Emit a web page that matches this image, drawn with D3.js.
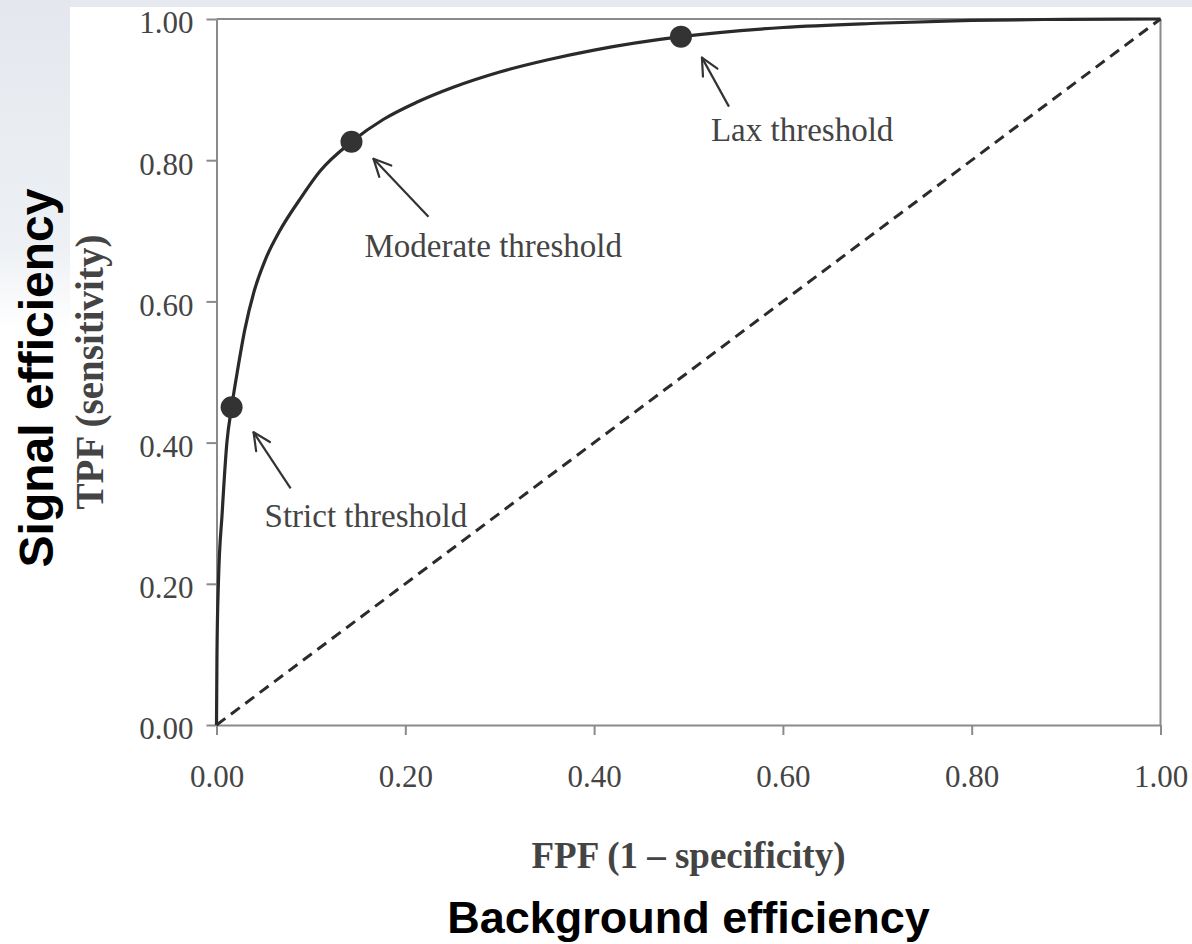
<!DOCTYPE html>
<html>
<head>
<meta charset="utf-8">
<script src="https://cdn.jsdelivr.net/npm/d3@7"></script>
<style>
  body { margin: 0; background: #fff; }
  svg { display: block; }
</style>
</head>
<body>
<div id="chart"></div>
<script>
// ROC curve (FPF on x, TPF on y)
var fpf = [0, 0.0005, 0.002, 0.006, 0.011, 0.016, 0.022, 0.03, 0.04, 0.052, 0.067, 0.088, 0.11, 0.143, 0.177, 0.212, 0.25, 0.3, 0.35, 0.4, 0.492, 0.6, 0.7, 0.8, 0.9, 1.0];
var tpf = [0, 0.1, 0.2, 0.3, 0.4, 0.45, 0.5, 0.56, 0.615, 0.66, 0.70, 0.744, 0.785, 0.826, 0.858, 0.882, 0.903, 0.925, 0.942, 0.956, 0.975, 0.988, 0.994, 0.998, 0.9995, 1.0];

// chance line
var chanceX = [0, 1];
var chanceY = [0, 1];

// operating points
var thrNames = ["Strict threshold", "Moderate threshold", "Lax threshold"];
var thrFpf = [0.016, 0.143, 0.492];
var thrTpf = [0.45, 0.826, 0.975];

var tickVals = [0, 0.2, 0.4, 0.6, 0.8, 1.0];
var tickLabels = ["0.00", "0.20", "0.40", "0.60", "0.80", "1.00"];

var xTitle = "FPF (1 \u2013 specificity)";
var yTitle = "TPF (sensitivity)";
var xTitle2 = "Background efficiency";
var yTitle2 = "Signal efficiency";

// set the dimensions and margins of the graph
var W = 1192, H = 944;
var margin = {top: 19, right: 32, bottom: 219, left: 216.5},
    width = 1160.5 - margin.left,
    height = 725 - margin.top;

var svg = d3.select("#chart")
    .append("svg")
    .attr("width", W)
    .attr("height", H);

// faint slide background behind the figure
var defs = svg.append("defs");
var grad = defs.append("linearGradient")
    .attr("id", "fade")
    .attr("x1", 0).attr("y1", 0).attr("x2", 0).attr("y2", 1);
grad.append("stop").attr("offset", "0%").attr("stop-color", "#e4e8ee");
grad.append("stop").attr("offset", "75%").attr("stop-color", "#edf0f4");
grad.append("stop").attr("offset", "100%").attr("stop-color", "#ffffff");
svg.append("rect").attr("x", 0).attr("y", 0).attr("width", W).attr("height", 7).attr("fill", "#e6eaf0");
svg.append("rect").attr("x", 0).attr("y", 0).attr("width", 70).attr("height", 330).attr("fill", "url(#fade)");

var g = svg.append("g")
    .attr("transform", "translate(" + margin.left + "," + margin.top + ")");

var x = d3.scaleLinear().domain([0, 1]).range([0, width]);
var y = d3.scaleLinear().domain([0, 1]).range([height, 0]);

var axisColor = "#8a8a8a";
var labColor = "#444";

// frame: top and right edges
g.append("line").attr("x1", x(0)).attr("x2", x(1)).attr("y1", y(1)).attr("y2", y(1))
    .attr("stroke", axisColor).attr("stroke-width", 2);
g.append("line").attr("x1", x(1)).attr("x2", x(1)).attr("y1", y(0)).attr("y2", y(1))
    .attr("stroke", axisColor).attr("stroke-width", 2);

// X axis
var xAxis = g.append("g")
    .attr("transform", "translate(0," + height + ")")
    .call(d3.axisBottom(x).tickValues(tickVals)
          .tickFormat(function(d, i) { return tickLabels[i]; })
          .tickSize(10).tickPadding(30).tickSizeOuter(0));
xAxis.select(".domain").attr("stroke", axisColor).attr("stroke-width", 2);
xAxis.selectAll(".tick line").attr("stroke", axisColor).attr("stroke-width", 2);
xAxis.selectAll("text")
    .style("font-family", "'Liberation Serif', 'Times New Roman', serif")
    .style("font-size", "31px")
    .attr("fill", labColor);

// Y axis
var yAxis = g.append("g")
    .call(d3.axisLeft(y).tickValues(tickVals)
          .tickFormat(function(d, i) { return tickLabels[i]; })
          .tickSize(10).tickPadding(13).tickSizeOuter(0));
yAxis.select(".domain").attr("stroke", axisColor).attr("stroke-width", 2);
yAxis.selectAll(".tick line").attr("stroke", axisColor).attr("stroke-width", 2);
yAxis.selectAll("text")
    .style("font-family", "'Liberation Serif', 'Times New Roman', serif")
    .style("font-size", "31px")
    .attr("dy", "0.45em")
    .attr("fill", labColor);

// chance diagonal
var chance = chanceX.map(function(d, i) { return [d, chanceY[i]]; });
g.append("path")
    .datum(chance)
    .attr("fill", "none")
    .attr("stroke", "#2b2b2b")
    .attr("stroke-width", 3)
    .attr("stroke-dasharray", "11,7")
    .attr("d", d3.line().x(function(d) { return x(d[0]); }).y(function(d) { return y(d[1]); }));

// ROC curve
var roc = fpf.map(function(d, i) { return [d, tpf[i]]; });
g.append("path")
    .datum(roc)
    .attr("fill", "none")
    .attr("stroke", "#2a2a2a")
    .attr("stroke-width", 3.2)
    .attr("d", d3.line().curve(d3.curveMonotoneX)
          .x(function(d) { return x(d[0]); }).y(function(d) { return y(d[1]); }));

// threshold markers
var thr = thrNames.map(function(n, i) { return {name: n, fx: thrFpf[i], ty: thrTpf[i]}; });
g.selectAll(".pt")
    .data(thr)
    .enter()
    .append("circle")
    .attr("class", "pt")
    .attr("cx", function(d) { return x(d.fx); })
    .attr("cy", function(d) { return y(d.ty); })
    .attr("r", 11)
    .attr("fill", "#333");

// arrows and labels, offsets in px from each marker
var annot = [
  {tip: [22, 25], tail: [59, 81], lab: [33, 120]},
  {tip: [22, 17], tail: [77, 75], lab: [13, 115]},
  {tip: [21, 21], tail: [48, 70], lab: [30, 104]}
];

thr.forEach(function(d, i) {
  var px = x(d.fx), py = y(d.ty), a = annot[i];
  var tx = px + a.tip[0], ty = py + a.tip[1];
  var sx = px + a.tail[0], sy = py + a.tail[1];
  g.append("line")
      .attr("x1", sx).attr("y1", sy).attr("x2", tx).attr("y2", ty)
      .attr("stroke", "#333").attr("stroke-width", 2.2);
  // open arrow head
  var ang = Math.atan2(sy - ty, sx - tx), L = 19, spread = 0.45;
  [ang - spread, ang + spread].forEach(function(t) {
    g.append("line")
        .attr("x1", tx).attr("y1", ty)
        .attr("x2", tx + L * Math.cos(t)).attr("y2", ty + L * Math.sin(t))
        .attr("stroke", "#333").attr("stroke-width", 2.2)
        .attr("stroke-linecap", "round");
  });
  g.append("text")
      .attr("x", px + a.lab[0]).attr("y", py + a.lab[1])
      .style("font-family", "'Liberation Serif', 'Times New Roman', serif")
      .style("font-size", "33px")
      .attr("fill", labColor)
      .text(d.name);
});

// axis titles
g.append("text")
    .attr("x", width / 2).attr("y", height + 143)
    .attr("text-anchor", "middle")
    .style("font-family", "'Liberation Serif', 'Times New Roman', serif")
    .style("font-size", "37px").style("font-weight", "bold")
    .attr("fill", labColor)
    .text(xTitle);

svg.append("text")
    .attr("transform", "translate(103," + (margin.top + height / 2) + ") rotate(-90)")
    .attr("text-anchor", "middle")
    .style("font-family", "'Liberation Serif', 'Times New Roman', serif")
    .style("font-size", "39px").style("font-weight", "bold")
    .attr("fill", labColor)
    .text(yTitle);

svg.append("text")
    .attr("x", margin.left + width / 2).attr("y", 933)
    .attr("text-anchor", "middle")
    .style("font-family", "'Liberation Sans', Arial, sans-serif")
    .style("font-size", "45px").style("font-weight", "bold")
    .attr("fill", "#000")
    .text(xTitle2);

svg.append("text")
    .attr("transform", "translate(53,378) rotate(-90)")
    .attr("text-anchor", "middle")
    .style("font-family", "'Liberation Sans', Arial, sans-serif")
    .style("font-size", "48px").style("font-weight", "bold")
    .attr("fill", "#000")
    .text(yTitle2);
</script>
</body>
</html>
